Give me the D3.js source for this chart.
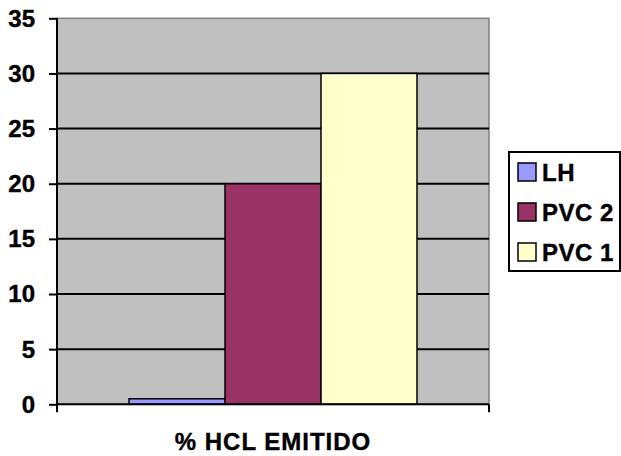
<!DOCTYPE html>
<html>
<head>
<meta charset="utf-8">
<script src="https://cdn.jsdelivr.net/npm/d3@7"></script>
<style>
  body { margin: 0; background: #fff; }
  text { font-family: "Liberation Sans", Arial, sans-serif; font-weight: bold; fill: #000; stroke: #000; stroke-width: 0.4px; }
</style>
</head>
<body>
<div id="chart"></div>
<script>
// data
var category = "% HCL EMITIDO";
var series = ["LH", "PVC 2", "PVC 1"];
var values = [0.5, 20, 30];
var colors = ["#9999FF", "#993366", "#FFFFCC"];
var y_ticks = [0, 5, 10, 15, 20, 25, 30, 35];

var width = 621, height = 456;
var plot = {left: 57, right: 489, top: 18.3, bottom: 404.3};

var svg = d3.select("#chart")
    .append("svg")
    .attr("width", width)
    .attr("height", height);

var y = d3.scaleLinear()
    .domain([0, 35])
    .range([plot.bottom, plot.top]);

// one category, bars side by side, gap 150% of a bar
var x = d3.scaleBand()
    .domain(series)
    .range([plot.left, plot.right])
    .paddingInner(0)
    .paddingOuter(0.75);

// plot background
svg.append("rect")
    .attr("x", plot.left)
    .attr("y", plot.top)
    .attr("width", plot.right - plot.left)
    .attr("height", plot.bottom - plot.top)
    .attr("fill", "#C0C0C0")
    .attr("stroke", "#808080")
    .attr("stroke-width", 1.5);

// gridlines
svg.selectAll(".grid")
    .data(y_ticks.filter(d => d > 0 && d < 35))
    .enter()
    .append("line")
    .attr("x1", plot.left)
    .attr("x2", plot.right)
    .attr("y1", d => y(d))
    .attr("y2", d => y(d))
    .attr("stroke", "#000")
    .attr("stroke-width", 2);

// bars
svg.selectAll(".bar")
    .data(values)
    .enter()
    .append("rect")
    .attr("x", (d, i) => x(series[i]))
    .attr("y", d => y(d))
    .attr("width", x.bandwidth())
    .attr("height", d => y(0) - y(d))
    .attr("fill", (d, i) => colors[i])
    .attr("stroke", "#000")
    .attr("stroke-width", 1.5);

// y axis
var y_axis = d3.axisLeft(y)
    .tickValues(y_ticks)
    .tickSize(8)
    .tickPadding(14)
    .tickFormat(d3.format("d"));

var gy = svg.append("g")
    .attr("transform", "translate(" + plot.left + ",0)")
    .call(y_axis);
gy.select(".domain")
    .attr("d", "M0," + plot.top + "V" + (plot.bottom + 8))
    .attr("stroke-width", 2);
gy.selectAll(".tick line").attr("stroke-width", 2);
gy.selectAll(".tick text")
    .style("font-size", "24px")
    .style("font-family", "'Liberation Sans', Arial, sans-serif")
    .style("font-weight", "bold")
    .attr("dy", "0.33em");

// x axis, one category
var x_cat = d3.scaleBand().domain([category]).range([plot.left, plot.right]);
var gx = svg.append("g")
    .attr("transform", "translate(0," + plot.bottom + ")");
gx.append("line")
    .attr("x1", plot.left)
    .attr("x2", plot.right)
    .attr("stroke", "#000")
    .attr("stroke-width", 2);
gx.append("line")
    .attr("x1", plot.right)
    .attr("x2", plot.right)
    .attr("y1", 0)
    .attr("y2", 8)
    .attr("stroke", "#000")
    .attr("stroke-width", 2);
gx.append("text")
    .attr("x", x_cat(category) + x_cat.bandwidth() / 2)
    .attr("y", 46)
    .attr("text-anchor", "middle")
    .style("font-size", "24px")
    .style("letter-spacing", "1px")
    .text(category);

// legend
var legend = svg.append("g").attr("transform", "translate(509,152)");
legend.append("rect")
    .attr("width", 111)
    .attr("height", 119)
    .attr("fill", "#fff")
    .attr("stroke", "#000")
    .attr("stroke-width", 2);

var rows = legend.selectAll(".row")
    .data(series)
    .enter()
    .append("g")
    .attr("transform", (d, i) => "translate(0," + (20 + i * 40) + ")");
rows.append("rect")
    .attr("x", 9)
    .attr("y", -9)
    .attr("width", 18)
    .attr("height", 18)
    .attr("fill", (d, i) => colors[i])
    .attr("stroke", "#000")
    .attr("stroke-width", 1.5);
rows.append("text")
    .attr("x", 33)
    .attr("dy", "0.38em")
    .style("font-size", "24px")
    .style("letter-spacing", "0.5px")
    .text(d => d);
</script>
</body>
</html>
